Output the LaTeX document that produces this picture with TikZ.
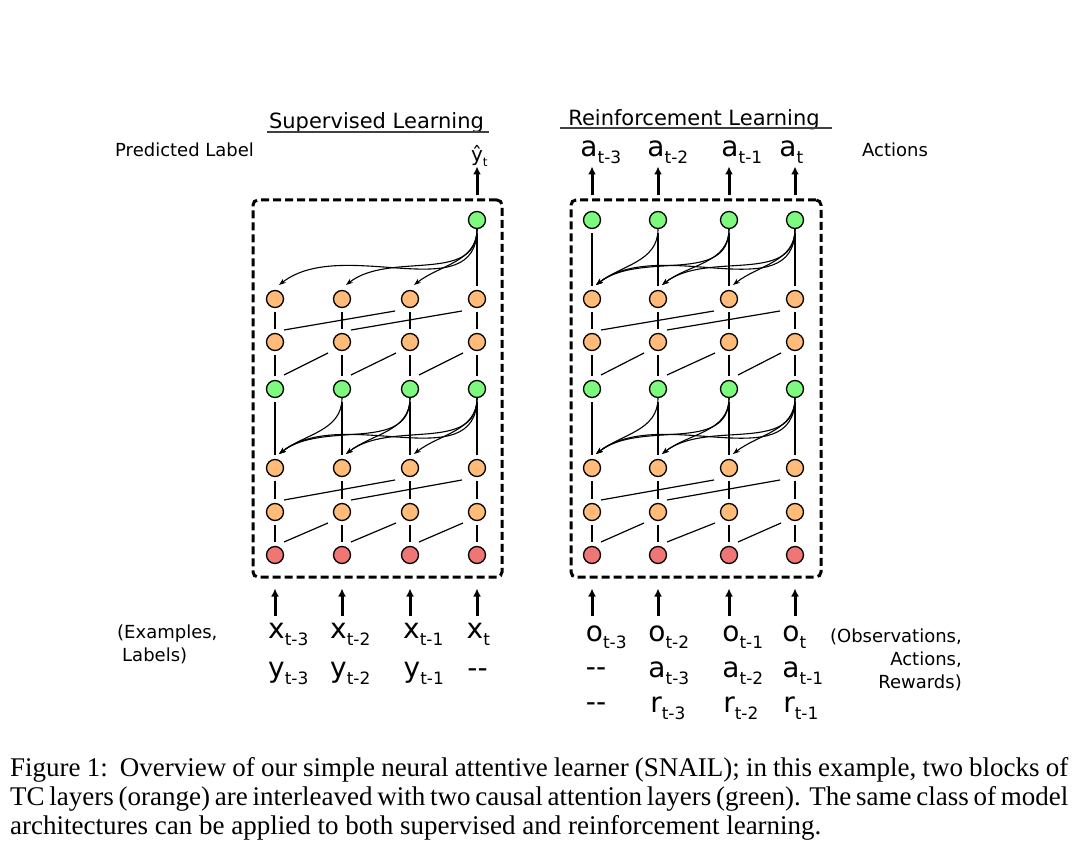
\documentclass[tikz,border=0pt]{standalone}
\usepackage{fontspec}
\setmainfont{Liberation Serif}
\newfontfamily\figsans{DejaVu Sans}
\usepackage{xcolor}
\usepackage{tikz}
\usetikzlibrary{calc,arrows.meta}
\definecolor{tcorange}{RGB}{255,187,119}
\definecolor{attgreen}{RGB}{125,250,125}
\definecolor{inred}{RGB}{240,118,118}
\newcommand{\tsub}[1]{\rlap{\raisebox{-7pt}{\fontsize{17}{17}\selectfont #1}}}
\tikzset{
  figfont/.style={font=\figsans\fontsize{18}{24}\selectfont},
  bigfont/.style={font=\figsans\fontsize{28}{28}\selectfont},
  titlefont/.style={font=\figsans\fontsize{21}{21}\selectfont},
  layernode/.style={circle, draw, line width=1.3pt, minimum size=17pt, inner sep=0pt},
  tcnode/.style={layernode, fill=tcorange},
  attnode/.style={layernode, fill=attgreen},
  innode/.style={layernode, fill=inred},
  tclink/.style={line width=1.2pt, shorten >=4pt, shorten <=4pt},
  attlink/.style={line width=1.1pt, -{Stealth[length=7pt,width=5pt]}},
  ioarrow/.style={line width=3pt, -{Latex[length=8pt,width=8pt]}},
  blockbox/.style={draw, line width=3pt, dash pattern=on 8pt off 4pt, rounded corners=5pt, inner sep=0pt},
  iolbl/.style={bigfont, inner sep=0pt, anchor=base},
  sidelbl/.style={inner sep=0pt},
  uline/.style={draw=black!75, line width=1.2pt},
}

\begin{document}
\begin{tikzpicture}[x=1pt,y=-1pt,figfont]
\useasboundingbox (0,0) rectangle (1076,858);

% Block frames
\node[blockbox, minimum width=249pt, minimum height=377pt] (sbox) at (377.5,388.5) {};
\node[blockbox, minimum width=250pt, minimum height=377pt] (rbox) at (696,388.5) {};

% Layer nodes (red input, orange TC, green attention)
\foreach \b/\xa/\xb/\xc/\xd in {s/275/342/410/477, r/592/658/729/795}{
  \foreach \j/\x in {1/\xa, 2/\xb, 3/\xc, 4/\xd}{
    \node[innode] (\b-in-\j) at (\x,555) {};
    \node[tcnode] (\b-c1-\j) at (\x,512) {};
    \node[tcnode] (\b-c2-\j) at (\x,468) {};
    \node[attnode] (\b-am-\j) at (\x,389) {};
    \node[tcnode] (\b-c3-\j) at (\x,342) {};
    \node[tcnode] (\b-c4-\j) at (\x,299) {};
  }
}
\node[attnode] (s-at-4) at (477,220) {};
\foreach \j/\x in {1/592,2/658,3/729,4/795}
  \node[attnode] (r-at-\j) at (\x,220) {};

% TC links
\foreach \b in {s,r}{
  \foreach \j in {1,...,4}{
    \draw[tclink] (\b-in-\j) -- (\b-c1-\j);
    \draw[tclink] (\b-c1-\j) -- (\b-c2-\j);
    \draw[tclink] (\b-c2-\j) -- (\b-am-\j);
    \draw[tclink] (\b-am-\j) -- (\b-c3-\j);
    \draw[tclink] (\b-c3-\j) -- (\b-c4-\j);
  }
  \foreach \j/\k in {1/2,2/3,3/4}{
    \draw[line width=1.2pt] ($(\b-in-\j)+(9,-13)$) -- ($(\b-c1-\k)+(-14,11)$);
    \draw[line width=1.2pt] ($(\b-am-\j)+(9,-14)$) -- ($(\b-c3-\k)+(-14,11)$);
  }
  \foreach \j/\k in {1/3,2/4}{
    \draw[line width=1.2pt] ($(\b-c1-\j)+(9,-12)$) -- ($(\b-c2-\k)+(-15,12)$);
    \draw[line width=1.2pt] ($(\b-c3-\j)+(9,-12)$) -- ($(\b-c4-\k)+(-15,12)$);
  }
}

% Causal attention links
\foreach \b in {s,r}
  \foreach \j/\i in {2/1,3/1,3/2,4/1,4/2,4/3}
    \draw[attlink] (\b-am-\j.south) to[out=-90,in=38] ($(\b-c2-\i)+(4,-14)$);
\draw[tclink] (s-at-4) -- (s-c4-4);
\foreach \i in {1,2,3}
  \draw[attlink] (s-at-4.south) to[out=-90,in=38] ($(s-c4-\i)+(4,-14)$);
\foreach \j in {1,...,4}
  \draw[tclink] (r-at-\j) -- (r-c4-\j);
\foreach \j/\i in {2/1,3/1,3/2,4/1,4/2,4/3}
  \draw[attlink] (r-at-\j.south) to[out=-90,in=38] ($(r-c4-\i)+(4,-14)$);

% Inputs and outputs
\foreach \b in {s,r}
  \foreach \j in {1,...,4}
    \draw[ioarrow] ($(\b box.south -| \b-in-\j)+(0,37)$) -- ($(\b box.south -| \b-in-\j)+(0,10)$);
\draw[ioarrow] ($(sbox.north -| s-at-4)+(0,-3)$) -- ($(sbox.north -| s-at-4)+(0,-32)$);
\foreach \j in {1,...,4}
  \draw[ioarrow] ($(rbox.north -| r-at-\j)+(0,-3)$) -- ($(rbox.north -| r-at-\j)+(0,-32)$);

% Titles
\node[titlefont, anchor=base, inner sep=0pt] (s-title) at (376.5,129) {Supervised Learning};
\draw[uline] ($(s-title.base west)+(-2,3)$) -- ($(s-title.base east)+(5,3)$);
\node[titlefont, anchor=base, inner sep=0pt] (r-title) at (694,126) {Reinforcement Learning};
\draw[uline] ($(r-title.base west)+(-8,2)$) -- ($(r-title.base east)+(12,2)$);

% Supervised labels
\node[sidelbl, anchor=base west] (s-outlbl) at (115,157) {Predicted Label};
\node[iolbl, font=\figsans\fontsize{20}{20}\selectfont] (s-yhat) at (477,162)
  {ŷ\rlap{\raisebox{-5pt}{\fontsize{12}{12}\selectfont t}}};
\node[sidelbl, anchor=north west, align=left, font=\figsans\fontsize{18}{23}\selectfont] (s-inlbl) at (117,625)
  {(Examples,\\\hspace*{5pt}Labels)};
\node[iolbl] (s-x1) at (276.5,638) {x\tsub{t-3}};
\node[iolbl] (s-x2) at (338.5,638) {x\tsub{t-2}};
\node[iolbl] (s-x3) at (411.5,638) {x\tsub{t-1}};
\node[iolbl] (s-x4) at (475,638) {x\tsub{t}};
\node[iolbl] (s-y1) at (276.5,677) {y\tsub{t-3}};
\node[iolbl] (s-y2) at (338.5,677) {y\tsub{t-2}};
\node[iolbl] (s-y3) at (412,677) {y\tsub{t-1}};
\node[iolbl] (s-y4) at (477.5,677) {-{}-};

% Reinforcement labels
\node[sidelbl, anchor=base west] (r-outlbl) at (862,157) {Actions};
\node[iolbl] (r-act1) at (589,157) {a\tsub{t-3}};
\node[iolbl] (r-act2) at (656,157) {a\tsub{t-2}};
\node[iolbl] (r-act3) at (730,157) {a\tsub{t-1}};
\node[iolbl] (r-act4) at (788,157) {a\tsub{t}};
\node[sidelbl, anchor=north east, align=right, font=\figsans\fontsize{18}{23}\selectfont] (r-inlbl) at (962,629)
  {(Observations,\\Actions,\\Rewards)};
\node[iolbl] (r-o1) at (594.5,641) {o\tsub{t-3}};
\node[iolbl] (r-o2) at (657,641) {o\tsub{t-2}};
\node[iolbl] (r-o3) at (731,641) {o\tsub{t-1}};
\node[iolbl] (r-o4) at (791,641) {o\tsub{t}};
\node[iolbl] (r-a1) at (596,676) {-{}-};
\node[iolbl] (r-a2) at (657,677) {a\tsub{t-3}};
\node[iolbl] (r-a3) at (731,677) {a\tsub{t-2}};
\node[iolbl] (r-a4) at (791,677) {a\tsub{t-1}};
\node[iolbl] (r-r1) at (596,711) {-{}-};
\node[iolbl] (r-r2) at (656,712) {r\tsub{t-3}};
\node[iolbl] (r-r3) at (729,712) {r\tsub{t-2}};
\node[iolbl] (r-r4) at (789,712) {r\tsub{t-1}};

% Caption
\node[anchor=north west, inner sep=0pt, align=left, font=\fontsize{27}{29}\selectfont] (caption) at (10,757)
  {\makebox[1058pt][s]{Figure 1:\ \ Overview of our simple neural attentive learner (SNAIL); in this example, two blocks of}\\
   \makebox[1058pt][s]{TC layers (orange) are interleaved with two causal attention layers (green). The same class of model}\\
   architectures can be applied to both supervised and reinforcement learning.};
\end{tikzpicture}
\end{document}
